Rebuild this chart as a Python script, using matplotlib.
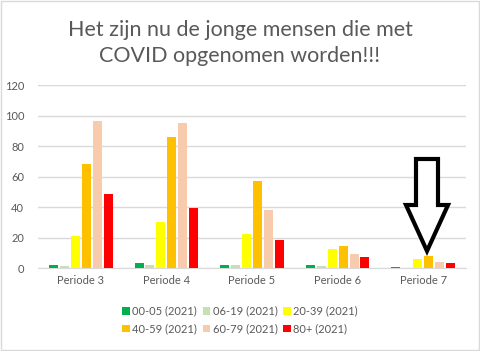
import matplotlib.pyplot as plt
import numpy as np
from matplotlib.patches import Polygon, Rectangle

plt.rcParams['font.family'] = ['Lato', 'DejaVu Sans']

# data
periods = ['Periode 3', 'Periode 4', 'Periode 5', 'Periode 6', 'Periode 7']
groups = ['00-05 (2021)', '06-19 (2021)', '20-39 (2021)',
          '40-59 (2021)', '60-79 (2021)', '80+ (2021)']
age_00_05 = [2, 3.5, 2, 2, 0.8]
age_06_19 = [1.5, 2, 2, 1.5, 0]
age_20_39 = [21.5, 30.5, 22.5, 12.7, 6]
age_40_59 = [68.5, 86, 57, 14.6, 8]
age_60_79 = [96.5, 95.5, 38.3, 9.5, 4]
age_80 = [48.7, 39.7, 18.6, 7.4, 3.4]
colors = ['#00b050', '#c6e0b4', '#ffff00', '#ffc000', '#f8cbad', '#ff0000']

series = [age_00_05, age_06_19, age_20_39, age_40_59, age_60_79, age_80]

fig = plt.figure(figsize=(4.8, 3.51), dpi=100)
ax = fig.add_axes([38 / 480, 1 - 268.3 / 351, 428 / 480, 183 / 351])

x = np.arange(len(periods))
slot = 0.128
width = 0.105
bars = []
for i, (vals, col) in enumerate(zip(series, colors)):
    b = ax.bar(x + (i - 2.5) * slot, vals, width, color=col, label=groups[i], zorder=3)
    bars.append(b)

ax.set_xlim(-0.5, len(periods) - 0.5)
ax.set_ylim(0, 120)
ax.set_yticks(range(0, 121, 20))
ax.set_xticks(x)
ax.set_xticklabels(periods)
ax.grid(axis='y', color='#d9d9d9', linewidth=1, zorder=0)
for s in ['top', 'right', 'left']:
    ax.spines[s].set_visible(False)
ax.spines['bottom'].set_color('#d9d9d9')
ax.tick_params(length=0, colors='#595959', labelsize=8)
ax.tick_params(axis='y', pad=10)
ax.tick_params(axis='x', pad=5)

# hollow arrow pointing at Periode 7
arrow = [(416, 159), (438, 159), (438, 205), (448, 205), (427, 251),
         (406, 205), (416, 205)]
arrow = [(px / 480, 1 - py / 351) for px, py in arrow]
fig.add_artist(Polygon(arrow, closed=True, facecolor='white', edgecolor='black',
                       linewidth=3, joinstyle='miter', transform=fig.transFigure))

fig.text(0.5, 1 - 43 / 351, 'Het zijn nu de jonge mensen die met\nCOVID opgenomen worden!!!',
         ha='center', va='center', fontsize=15.5, color='#595959', linespacing=1.42)

# legend filled row by row
order = [0, 3, 1, 4, 2, 5]
fig.legend([bars[k] for k in order], [groups[k] for k in order],
           loc='center', bbox_to_anchor=(0.5, 1 - 320 / 351), ncol=3, frameon=False,
           fontsize=8, labelcolor='#595959', handlelength=0.7, handleheight=0.7,
           handletextpad=0.2, columnspacing=0.5, labelspacing=0.6, borderpad=0)

# chart border
fig.add_artist(Rectangle((0.002, 0.002), 0.995, 0.995, transform=fig.transFigure,
                         fill=False, edgecolor='#d9d9d9', linewidth=1))

fig.savefig('out.png', dpi=100)
